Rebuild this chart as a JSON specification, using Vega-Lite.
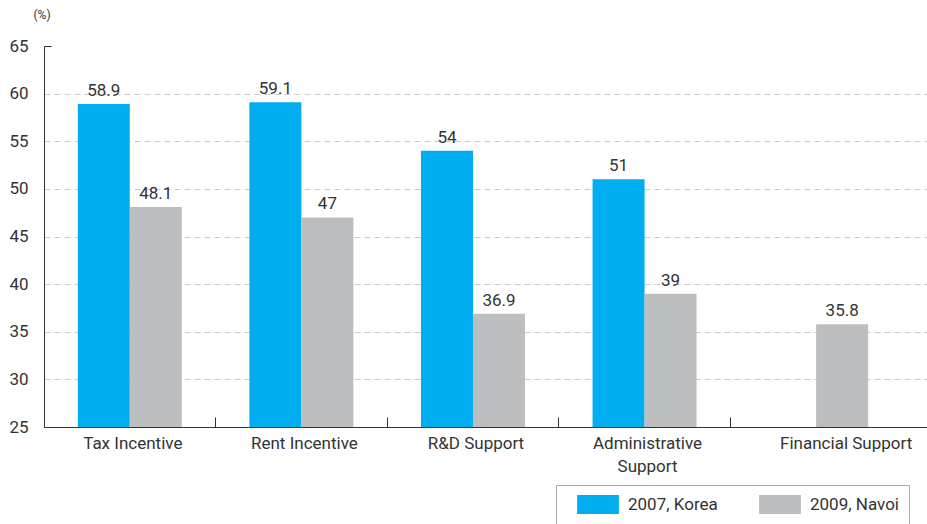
{
  "$schema": "https://vega.github.io/schema/vega-lite/v6.json",
  "width": 883,
  "height": 381,
  "autosize": {"type": "none"},
  "padding": {"left": 44, "top": 46, "right": 0, "bottom": 97},
  "config": {
    "font": "Roboto",
    "view": {"stroke": null},
    "axis": {"labelFont": "Roboto", "labelFontSize": 17, "labelColor": "#333", "domainColor": "#333", "tickColor": "#333"}
  },
  "data": {
    "values": [
      {"category": "Tax Incentive", "series": "2007, Korea", "value": 58.9},
      {"category": "Tax Incentive", "series": "2009, Navoi", "value": 48.1},
      {"category": "Rent Incentive", "series": "2007, Korea", "value": 59.1},
      {"category": "Rent Incentive", "series": "2009, Navoi", "value": 47},
      {"category": "R&D Support", "series": "2007, Korea", "value": 54},
      {"category": "R&D Support", "series": "2009, Navoi", "value": 36.9},
      {"category": "Administrative Support", "series": "2007, Korea", "value": 51},
      {"category": "Administrative Support", "series": "2009, Navoi", "value": 39},
      {"category": "Financial Support", "series": "2009, Navoi", "value": 35.8}
    ]
  },
  "encoding": {
    "x": {
      "field": "category", "type": "nominal", "sort": null,
      "scale": {"paddingInner": 0, "paddingOuter": 0.073, "align": 0},
      "axis": {
        "title": null, "labelAngle": 0, "bandPosition": 0, "tickSize": -10,
        "labelPadding": 18, "labelLineHeight": 23, "labelBaseline": "top",
        "labelOffset": {"condition": {"test": "datum.value === 'Financial Support'", "value": 30}, "value": 3},
        "labelExpr": "datum.label == 'Administrative Support' ? ['Administrative', 'Support'] : datum.label"
      }
    },
    "xOffset": {"field": "series", "type": "nominal", "scale": {"paddingOuter": 0.65, "paddingInner": 0}}
  },
  "layer": [
    {
      "mark": {"type": "bar"},
      "encoding": {
        "y": {
          "field": "value", "type": "quantitative",
          "scale": {"domain": [25, 65], "zero": false, "nice": false},
          "axis": {
            "values": [25, 30, 35, 40, 45, 50, 55, 60, 65],
            "title": "(%)", "titleAngle": 0, "titleX": -11, "titleY": -25, "titleAlign": "left",
            "titleFontSize": 12, "titleFontWeight": "normal", "titleColor": "#333", "titleFont": "Roboto",
            "grid": true, "gridDash": [6, 4], "gridColor": "#ccc",
            "gridOpacity": {"condition": {"test": "datum.value === 65 || datum.value === 25", "value": 0}, "value": 1},
            "tickSize": -7,
            "tickOpacity": {"condition": {"test": "datum.value === 65", "value": 1}, "value": 0},
            "labelPadding": 23
          }
        },
        "y2": {"datum": 25},
        "color": {
          "field": "series", "type": "nominal",
          "scale": {"domain": ["2007, Korea", "2009, Navoi"], "range": ["#00AEEF", "#BCBEC0"]},
          "legend": {
            "title": null, "orient": "none", "legendX": 512, "legendY": 439, "direction": "horizontal",
            "strokeColor": "#aaa", "padding": 10,
            "symbolType": "M-2.2,-1H2.2V1H-2.2Z", "symbolSize": 361, "symbolStrokeWidth": 0, "symbolOpacity": 1,
            "labelFontSize": 17, "labelColor": "#333", "labelFont": "Roboto",
            "labelExpr": "datum.label == '2009, Navoi' ? datum.label + '\u00a0\u00a0\u00a0\u00a0\u00a0' : datum.label",
            "columnPadding": 30, "labelOffset": 20.5, "symbolOffset": 22.5
          }
        }
      }
    },
    {
      "mark": {"type": "text", "dy": -13, "fontSize": 17, "color": "#333", "font": "Roboto"},
      "encoding": {
        "y": {"field": "value", "type": "quantitative"},
        "text": {"field": "value", "type": "quantitative"}
      }
    }
  ]
}
